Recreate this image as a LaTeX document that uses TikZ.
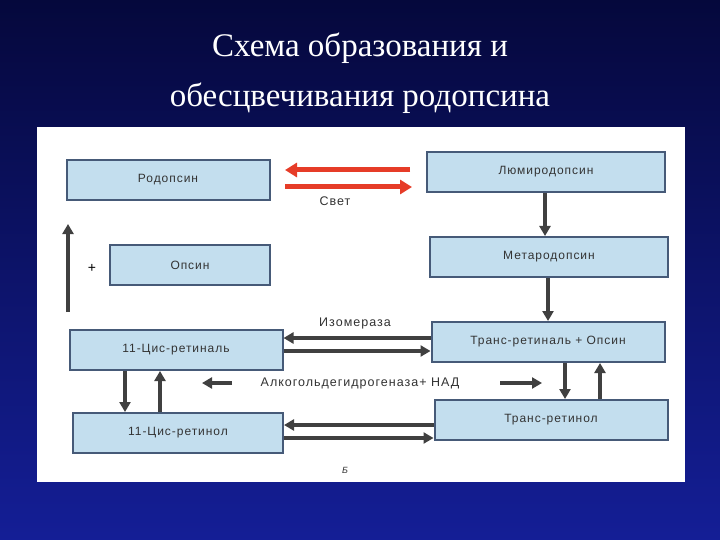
\documentclass[tikz,border=0pt]{standalone}
\usepackage{fontspec}
\setmainfont{Liberation Serif}
\newfontfamily\boxfont[LetterSpace=8]{Liberation Sans}
\usetikzlibrary{arrows.meta}
\definecolor{bgtop}{RGB}{5,8,60}
\definecolor{bgbot}{RGB}{20,30,150}
\definecolor{boxfill}{RGB}{195,222,238}
\definecolor{boxline}{RGB}{70,90,120}
\definecolor{redarr}{RGB}{230,60,40}
\tikzset{
  bx/.style={draw=boxline,line width=2pt,fill=boxfill,inner sep=0pt,font=\boxfont\fontsize{12}{14}\selectfont,text=black!80},
  ar/.style={line width=3.5pt,draw=black!75,-{Triangle[length=10pt,width=11pt]}},
  ra/.style={line width=5pt,draw=redarr,-{Triangle[length=12pt,width=14pt]}},
  lb/.style={font=\boxfont\fontsize{12.5}{14}\selectfont,text=black!80,inner sep=1pt}
}
\begin{document}
\begin{tikzpicture}[x=1pt,y=-1pt]
\useasboundingbox (0,0) rectangle (720,540);
\shade[top color=bgtop,bottom color=bgbot] (0,0) rectangle (720,540);
\node[text=white,font=\fontsize{33}{50}\selectfont,align=center] (title) at (360,73) {Схема образования и\\обесцвечивания родопсина};
\fill[white] (37,127) rectangle (685,482);
\node[bx,minimum width=203pt,minimum height=40pt] (rod) at (168,180) {Родопсин};
\node[bx,minimum width=238pt,minimum height=40pt] (lum) at (546,172) {Люмиродопсин};
\node[bx,minimum width=238pt,minimum height=40pt] (met) at (549,257) {Метародопсин};
\node[bx,minimum width=160pt,minimum height=40pt] (ops) at (190,265) {Опсин};
\node[bx,minimum width=213pt,minimum height=40pt] (cral) at (176,350) {11-Цис-ретиналь};
\node[bx,minimum width=233pt,minimum height=40pt] (tral) at (548,342) {Транс-ретиналь + Опсин};
\node[bx,minimum width=210pt,minimum height=40pt] (crol) at (178,433) {11-Цис-ретинол};
\node[bx,minimum width=233pt,minimum height=40pt] (trol) at (551,420) {Транс-ретинол};
% red arrows
\draw[ra] (410,170) coordinate (r1) -- (285,170) coordinate (r2);
\draw[ra] (285,187) coordinate (r3) -- (412,187) coordinate (r4);
\node[lb] (svet) at (335,201) {Свет};
% down arrows right
\draw[ar] (lum.south -| 545,0) -- (met.north -| 545,0);
\draw[ar] (met.south -| 548,0) -- (tral.north -| 548,0);
% plus and up arrow
\node[font=\boxfont\fontsize{14}{14}\selectfont] (plus) at (92,268) {+};
\draw[ar] (68,312) coordinate (u1) -- (68,224) coordinate (u2);
% isomerase
\node[lb] (iso) at (355,323) {Изомераза};
\draw[ar] (tral.west |- 0,338) -- (cral.east |- 0,338);
\draw[ar] (cral.east |- 0,351) -- (tral.west |- 0,351);
% ADH
\node[lb] (adh) at (360,383) {Алкогольдегидрогеназа+ НАД};
\draw[ar] (500,383) coordinate (a1) -- (542,383) coordinate (a2);
\draw[ar] (232,383) coordinate (a3) -- (202,383) coordinate (a4);
\draw[ar] (cral.south -| 125,0) -- (crol.north -| 125,0);
\draw[ar] (crol.north -| 160,0) -- (cral.south -| 160,0);
\draw[ar] (tral.south -| 565,0) -- (trol.north -| 565,0);
\draw[ar] (trol.north -| 600,0) -- (tral.south -| 600,0);
% bottom
\draw[ar] (trol.west |- 0,425) -- (crol.east |- 0,425);
\draw[ar] (crol.east |- 0,438) -- (trol.west |- 0,438);
\node[lb,font=\boxfont\itshape\fontsize{9}{10}\selectfont] (b) at (345,470) {Б};
\end{tikzpicture}
\end{document}
